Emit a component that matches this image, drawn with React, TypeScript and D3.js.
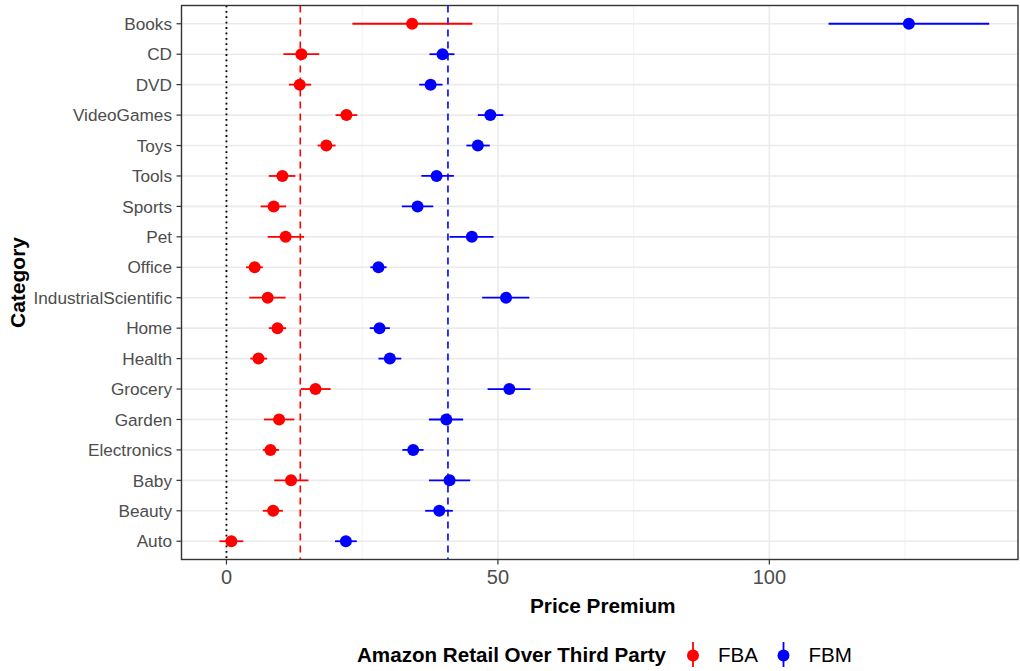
import React from "react";
import * as d3 from "d3";

// categories top to bottom
const categories = [
  "Books", "CD", "DVD", "VideoGames", "Toys", "Tools", "Sports", "Pet", "Office",
  "IndustrialScientific", "Home", "Health", "Grocery", "Garden", "Electronics",
  "Baby", "Beauty", "Auto",
];

// FBA estimate with lower / upper bounds
const fbaEst = [34.2, 13.8, 13.5, 22.1, 18.4, 10.3, 8.7, 10.9, 5.2, 7.6, 9.4, 5.9, 16.4, 9.7, 8.1, 11.9, 8.6, 0.9];
const fbaLow = [23.2, 10.5, 11.5, 20.1, 16.8, 7.8, 6.3, 7.6, 3.6, 4.2, 7.8, 4.4, 13.7, 6.9, 6.7, 8.8, 6.7, -1.3];
const fbaHigh = [45.3, 17.1, 15.6, 24.1, 20.1, 12.7, 11.0, 14.3, 6.7, 10.9, 11.0, 7.5, 19.2, 12.5, 9.7, 15.1, 10.4, 3.1];

// FBM estimate with lower / upper bounds
const fbmEst = [125.7, 39.8, 37.6, 48.6, 46.3, 38.7, 35.2, 45.2, 28.0, 51.5, 28.2, 30.1, 52.1, 40.5, 34.4, 41.1, 39.2, 22.0];
const fbmLow = [110.9, 37.4, 35.5, 46.3, 44.2, 35.9, 32.3, 41.1, 26.5, 47.1, 26.4, 28.0, 48.1, 37.3, 32.4, 37.3, 36.6, 20.0];
const fbmHigh = [140.5, 42.0, 39.8, 51.0, 48.5, 41.9, 38.1, 49.2, 29.5, 55.8, 30.1, 32.2, 56.0, 43.6, 36.3, 44.9, 41.7, 24.0];

// mean reference lines
const fbaMean = 13.6;
const fbmMean = 40.8;

const xTicks = [0, 50, 100];
const xMinor = [25, 75, 125];

const series = [
  { name: "FBA", color: "#ff0000", est: fbaEst, low: fbaLow, high: fbaHigh },
  { name: "FBM", color: "#0000ff", est: fbmEst, low: fbmLow, high: fbmHigh },
];

const W = 1020;
const H = 671;
const font = "'Liberation Sans', Arial, sans-serif";

export default function App() {
  const left = 181.5, right = 1018, top = 5.5, bottom = 559.5;

  const x = d3.scaleLinear().domain([-8.28, 145.8]).range([left, right]);
  const y = d3.scalePoint<string>().domain(categories).range([top, bottom]).padding(0.6);

  return (
    <svg width={W} height={H} style={{ position: "absolute", left: 0, top: 0, background: "#fff" }} fontFamily={font}>
      {/* grid */}
      {xMinor.map((t) => (
        <line key={"mi" + t} x1={x(t)} x2={x(t)} y1={top} y2={bottom} stroke="#f2f2f2" strokeWidth={0.9} />
      ))}
      {xTicks.map((t) => (
        <line key={"ma" + t} x1={x(t)} x2={x(t)} y1={top} y2={bottom} stroke="#ebebeb" strokeWidth={1.6} />
      ))}
      {categories.map((c) => (
        <line key={"h" + c} x1={left} x2={right} y1={y(c)} y2={y(c)} stroke="#ebebeb" strokeWidth={1.6} />
      ))}

      {/* reference lines */}
      <line x1={x(0)} x2={x(0)} y1={top} y2={bottom} stroke="#000" strokeWidth={1.8} strokeDasharray="1.8,3.6" />
      <line x1={x(fbaMean)} x2={x(fbaMean)} y1={top} y2={bottom} stroke="#ff0000" strokeWidth={1.6} strokeDasharray="7,5" />
      <line x1={x(fbmMean)} x2={x(fbmMean)} y1={top} y2={bottom} stroke="#0000ff" strokeWidth={1.6} strokeDasharray="7,5" />

      {/* error bars + points */}
      {series.map((s) =>
        categories.map((c, i) => (
          <g key={s.name + c}>
            <line x1={x(s.low[i])} x2={x(s.high[i])} y1={y(c)} y2={y(c)} stroke={s.color} strokeWidth={1.8} />
            <circle cx={x(s.est[i])} cy={y(c)} r={6} fill={s.color} />
          </g>
        ))
      )}

      {/* panel border */}
      <rect x={left} y={top} width={right - left} height={bottom - top} fill="none" stroke="#333" strokeWidth={1.4} />

      {/* y axis */}
      {categories.map((c) => (
        <g key={"yl" + c}>
          <line x1={left - 5} x2={left} y1={y(c)} y2={y(c)} stroke="#333" strokeWidth={1.2} />
          <text x={172} y={y(c)} dy="0.36em" textAnchor="end" fontSize={17.2} fill="#4d4d4d">{c}</text>
        </g>
      ))}
      <text transform={`translate(25,${(top + bottom) / 2}) rotate(-90)`} textAnchor="middle" fontSize={21} fontWeight="bold" fill="#000">Category</text>

      {/* x axis */}
      {xTicks.map((t) => (
        <g key={"xl" + t}>
          <line x1={x(t)} x2={x(t)} y1={bottom} y2={bottom + 5} stroke="#333" strokeWidth={1.2} />
          <text x={x(t)} y={584} textAnchor="middle" fontSize={20} fill="#4d4d4d">{t}</text>
        </g>
      ))}
      <text x={(left + right) / 2 + 3} y={613} textAnchor="middle" fontSize={20.8} fontWeight="bold" fill="#000">Price Premium</text>

      {/* legend */}
      <text x={357} y={662} fontSize={20.6} fontWeight="bold" fill="#000">Amazon Retail Over Third Party</text>
      {series.map((s, i) => {
        const kx = 693 + i * 90.5;
        return (
          <g key={"lg" + s.name}>
            <line x1={kx} x2={kx} y1={642} y2={667} stroke={s.color} strokeWidth={1.8} />
            <circle cx={kx} cy={655.5} r={6} fill={s.color} />
            <text x={kx + 25} y={662} fontSize={20.6} fill="#000">{s.name}</text>
          </g>
        );
      })}
    </svg>
  );
}
